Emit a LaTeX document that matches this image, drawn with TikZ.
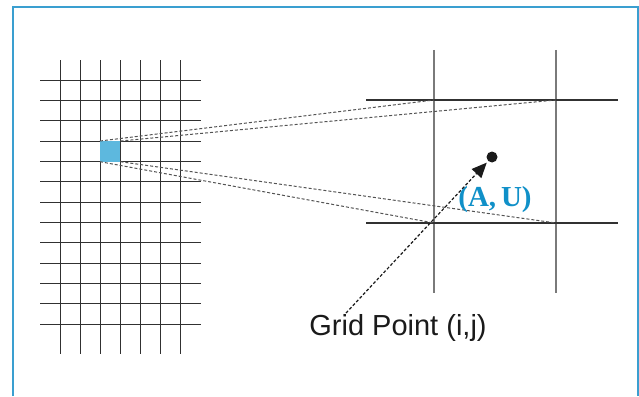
\documentclass[tikz,border=0pt]{standalone}
\usepackage{fontspec}
\setmainfont{Liberation Sans}
\newfontfamily\labelserif{Liberation Serif}
\usetikzlibrary{arrows.meta,positioning}
\definecolor{frameblue}{HTML}{3A9FD0}
\definecolor{cellblue}{HTML}{5DB8DE}
\definecolor{pointblue}{HTML}{1090C8}
\definecolor{ink}{HTML}{1A1A1A}
\definecolor{inkgray}{HTML}{7A7A7A}
\tikzset{
  fineline/.style={line width=0.9pt,color=ink!90},
  coarseline/.style={line width=1.4pt,color=inkgray},
  mapline/.style={line width=1pt,color=ink!75,dash pattern=on 3pt off 2pt},
}

\begin{document}
\begin{tikzpicture}[x=1pt,y=-1pt]
    \path[use as bounding box] (0,0) rectangle (639,396);
    % frame, open at the bottom
    \draw[line width=1.5pt,color=frameblue] (13,396) -- (13,7) -- (638,7) -- (638,396);
    % fine grid
    \foreach \gx in {60,80,...,180}
      \draw[fineline] (\gx,60) -- (\gx,354);
    \foreach \k in {0,...,12}
      \draw[fineline] (40,80+20.33*\k) -- (201,80+20.33*\k);
    \node[fill=cellblue,inner sep=0pt,minimum width=20pt,minimum height=20.3pt,
      anchor=north west] (cell) at (100,141) {};
    % coarse grid
    \foreach \gx in {434,556}
      \draw[coarseline] (\gx,50) -- (\gx,293);
    \foreach \gy in {100,223}
      \draw[fineline,line width=1.2pt] (366,\gy) -- (618,\gy);
    \coordinate (tl) at (434,100);
    \coordinate (tr) at (556,100);
    \coordinate (bl) at (434,223);
    \coordinate (br) at (556,223);
    % cell mapped onto coarse cell
    \draw[mapline] (cell.north west) -- (tl);
    \draw[mapline] (cell.north east) -- (tr);
    \draw[mapline] (cell.south west) -- (bl);
    \draw[mapline] (cell.south east) -- (br);
    % point and labels
    \node[circle,fill=ink,inner sep=0pt,minimum size=11pt] (pt) at (492,157) {};
    \node[font=\labelserif\bfseries\fontsize{29}{32}\selectfont,color=pointblue]
      (au) at (495,200) {(A,\,U)};
    \node[font=\fontsize{29}{33}\selectfont,color=ink] (gp) at (398,328) {Grid Point (i,j)};
    \coordinate (tail) at (346,313);
    \draw[mapline,line width=1.2pt,color=ink,-{Triangle[length=15pt,width=13pt]}]
      (tail) -- (pt) [shorten >=2pt];
  \end{tikzpicture}
\end{document}
